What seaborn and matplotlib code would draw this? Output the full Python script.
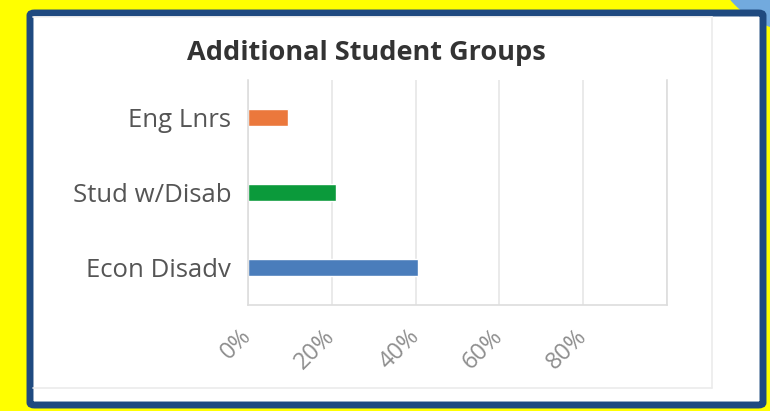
import matplotlib
matplotlib.use('Agg')
import matplotlib.pyplot as plt
import seaborn as sns
import pandas as pd
from matplotlib.patches import FancyBboxPatch, Circle
from matplotlib.lines import Line2D

# Data
groups = ['Eng Lnrs', 'Stud w/Disab', 'Econ Disadv']
values = [9.6, 21.0, 40.5]
colors = ['#eb783c', '#0b9a3b', '#4a7dbb']
tick_vals = [0, 20, 40, 60, 80, 100]
tick_labels = ['0%', '20%', '40%', '60%', '80%', '']

sns.set_theme(style='white')
plt.rcParams['font.family'] = ['Open Sans', 'DejaVu Sans']

W, H = 770, 411
fig = plt.figure(figsize=(W / 100, H / 100), dpi=100)
fig.patch.set_facecolor('#ffff00')

def fx(px):
    return px / W

def fy(py):
    return 1 - py / H

# light blue blob in the top-right corner (inches, so it stays round)
fig.patches.append(Circle((8.0, 4.11 + 0.6), 0.92, transform=fig.dpi_scale_trans,
                          facecolor='#72aade', edgecolor='none', zorder=0))

# dark blue framed card
fig.patches.append(FancyBboxPatch((fx(30), fy(405)), (763 - 30) / W, (405 - 13) / H,
                                  boxstyle='round,pad=0,rounding_size=0.006',
                                  transform=fig.transFigure, facecolor='white',
                                  edgecolor='#1f4a80', linewidth=5, zorder=1))
# faint inner card edges
fig.lines.append(Line2D([fx(712), fx(712)], [fy(17), fy(388)], transform=fig.transFigure,
                        color='#ebebeb', linewidth=1.2, zorder=2))
fig.lines.append(Line2D([fx(33), fx(712)], [fy(388), fy(388)], transform=fig.transFigure,
                        color='#ebebeb', linewidth=1.2, zorder=2))
fig.lines.append(Line2D([fx(33), fx(712)], [fy(17), fy(17)], transform=fig.transFigure,
                        color='#f2f2f2', linewidth=1.2, zorder=2))

ax = fig.add_axes([fx(248), fy(305), (667 - 248) / W, (305 - 80) / H])
ax.set_zorder(3)
df = pd.DataFrame({'group': groups, 'value': values})
sns.barplot(data=df, x='value', y='group', hue='group', palette=colors,
            width=0.23, orient='h', legend=False, ax=ax, saturation=1)

ax.set_xlim(0, 100)
ax.set_ylim(2.5, -0.5)
ax.set_xticks(tick_vals)
ax.set_xticklabels(tick_labels, rotation=45, ha='right', va='center',
                   rotation_mode='anchor', color='#8e8e8e', fontsize=17)
ax.tick_params(axis='x', length=0, pad=20)
ax.tick_params(axis='y', length=0, pad=12, labelsize=18.5, labelcolor='#555555')
ax.set_xlabel('')
ax.set_ylabel('')
ax.grid(axis='x', color='#e6e6e6', linewidth=1.2)
ax.set_axisbelow(True)
ax.spines['top'].set_visible(False)
for side in ['left', 'right', 'bottom']:
    ax.spines[side].set_color('#dddddd')
    ax.spines[side].set_linewidth(1.2)
ax.set_facecolor('none')

fig.text(fx(366), fy(53), 'Additional Student Groups', ha='center', va='center',
         fontsize=19.5, fontweight='bold', color='#333333', zorder=4)

fig.savefig('out.png', dpi=100, facecolor=fig.get_facecolor())
